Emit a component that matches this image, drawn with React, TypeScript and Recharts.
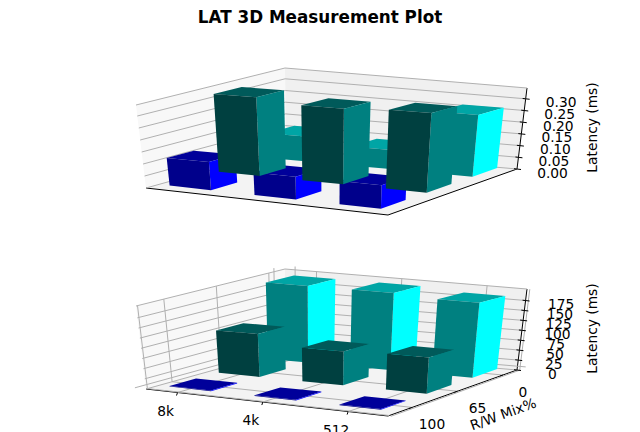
import { BarChart, Bar, XAxis, YAxis, CartesianGrid } from 'recharts'

const categories = ['8k', '4k', '512']
const mixLabels = ['100', '65', '0']

const readMs = [0.105, 0.08, 0.257]
const mixedMs = [0.327, 0.308, 0.318]
const writeMs = [0.115, 0.09, 0.09]
const read99 = [191, 191, 184]
const mixed99 = [105, 81, 85]
const write99 = [1.5, 1.5, 1.5]

const ticksAvg = [0, 0.05, 0.1, 0.15, 0.2, 0.25, 0.3]
const ticks99 = [0, 25, 50, 75, 100, 125, 150, 175]

const W = 640
const H = 231
const FONT = '"DejaVu Sans", sans-serif'

// floor and lean of the verticals, the corners of the 3d box
const FL = [146, 188]
const FR = [388, 215]
const BR = [517, 169]
const BL = [286, 149]
const ZFL = [-10, -83]
const ZFR = [3, -92]
const ZBR = [10, -81]
const ZBL = [-1, -81]

const mix = (p: number[], q: number[], r: number[], s: number[], a: number, d: number, i: number) =>
  (1 - a) * (1 - d) * p[i] + a * (1 - d) * q[i] + a * d * r[i] + (1 - a) * d * s[i]

const project = (a: number, d: number, h: number) => [
  mix(FL, FR, BR, BL, a, d, 0) + h * mix(ZFL, ZFR, ZBR, ZBL, a, d, 0),
  mix(FL, FR, BR, BL, a, d, 1) + h * mix(ZFL, ZFR, ZBR, ZBL, a, d, 1),
]
const pts = (list: number[][]) => list.map((p) => `${p[0].toFixed(1)},${p[1].toFixed(1)}`).join(' ')

const toA = (f: number) => -0.046 + 1.0575 * f
const toD = (f: number) => 0.01 + 1.0575 * f
const DEPTH_HALF = 0.095

const makeBarShape = (row: number, colors: string[]) => (props: any) => {
  const { x, y, width, height } = props
  const a0 = toA(x / W)
  const a1 = toA((x + width) / W)
  const h = height / H
  const dc = toD((row + 0.5) / 3)
  const d0 = dc - DEPTH_HALF
  const d1 = dc + DEPTH_HALF
  return (
    <g key={`${row}-${x}-${y}`}>
      <polygon points={pts([project(a0, d0, h), project(a1, d0, h), project(a1, d1, h), project(a0, d1, h)])} fill={colors[2]} />
      <polygon points={pts([project(a1, d0, 0), project(a1, d1, 0), project(a1, d1, h), project(a1, d0, h)])} fill={colors[1]} />
      <polygon points={pts([project(a0, d0, 0), project(a1, d0, 0), project(a1, d0, h), project(a0, d0, h)])} fill={colors[0]} />
    </g>
  )
}

// front, right side, top
const blueFaces = ['#00008b', '#0000ff', '#00009a']
const tealFaces = ['#004040', '#008080', '#005a5a']
const cyanFaces = ['#008080', '#00ffff', '#00a5a5']

const gridH = (props: any) => {
  const h = (H - props.y1) / H
  return (
    <polyline key={props.key} points={pts([project(0, 0, h), project(0, 1, h), project(1, 1, h)])} fill="none" stroke="#b0b0b0" strokeWidth={1} />
  )
}
const gridV = (props: any) => {
  const f = props.x1 / W
  const a = toA(f)
  const d = toD(f)
  return (
    <g key={props.key}>
      <polyline points={pts([project(a, 0, 0), project(a, 1, 0), project(a, 1, 1)])} fill="none" stroke="#b0b0b0" />
      <polyline points={pts([project(1, d, 0), project(0, d, 0), project(0, d, 1)])} fill="none" stroke="#b0b0b0" />
    </g>
  )
}

const zTick = (props: any) => {
  const h = (H - props.y) / H
  const p = project(1, 1, h)
  return (
    <g>
      <line x1={p[0] - 3} y1={p[1] - 0.3} x2={p[0] + 4} y2={p[1] + 0.5} stroke="#000" />
      <text x={p[0] + 35.5} y={p[1] + 3.5} textAnchor="middle" dominantBaseline="central" fontSize={13.8} fontFamily={FONT} fill="#000">
        {props.tickFormatter ? props.tickFormatter(props.payload.value) : props.payload.value}
      </text>
    </g>
  )
}

const catTick = (props: any) => {
  const p = project(toA(props.x / W), 0, 0)
  return (
    <g>
      <line x1={p[0]} y1={p[1]} x2={p[0] - 1} y2={p[1] + 3} stroke="#000" />
      <text x={p[0] - 12} y={p[1] + 18} textAnchor="middle" dominantBaseline="central" fontSize={13.8} fontFamily={FONT} fill="#000">
        {props.payload.value}
      </text>
    </g>
  )
}

const mixTick = (props: any) => {
  const p = project(1, toD(props.x / W), 0)
  return (
    <g>
      <line x1={p[0]} y1={p[1]} x2={p[0] - 3} y2={p[1] + 1} stroke="#000" />
      <text x={p[0] + 20} y={p[1] + 17} textAnchor="middle" dominantBaseline="central" fontSize={13.8} fontFamily={FONT} fill="#000">
        {props.payload.value}
      </text>
    </g>
  )
}

const BackPanes = ({ showMixTitle }: { showMixTitle: boolean }) => (
  <svg width={W} height={H} style={{ position: 'absolute', left: 0, top: 0, overflow: 'visible' }}>
    <polygon points={pts([project(0, 0, 0), project(0, 1, 0), project(0, 1, 1), project(0, 0, 1)])} fill="#f8f8f8" />
    <polygon points={pts([project(0, 1, 0), project(1, 1, 0), project(1, 1, 1), project(0, 1, 1)])} fill="#f0f0f0" />
    <polygon points={pts([project(0, 0, 0), project(1, 0, 0), project(1, 1, 0), project(0, 1, 0)])} fill="#f3f3f3" />
    <polyline points={pts([project(0, 0, 0), project(1, 0, 0), project(1, 1, 0), project(1, 1, 1)])} fill="none" stroke="#000" strokeWidth={1} />
    <text x={0} y={0} transform="translate(592 127.5) rotate(-90)" textAnchor="middle" dominantBaseline="central" fontSize={13.8} fontFamily={FONT}>
      Latency (ms)
    </text>
    {showMixTitle && (
      <text x={0} y={0} transform="translate(503 213) rotate(-20)" textAnchor="middle" dominantBaseline="central" fontSize={13.8} fontFamily={FONT}>
        R/W Mix%
      </text>
    )}
  </svg>
)

const Panel = ({ top, back, mid, front, zMax, ticks, fmt, labelled }: any) => {
  const table = categories.map((c, i) => ({ cat: c, mix: mixLabels[i], back: back[i], mid: mid[i], front: front[i] }))
  return (
    <div style={{ position: 'absolute', left: 0, top, width: W, height: H }}>
      <BackPanes showMixTitle={labelled} />
      <div style={{ position: 'absolute', left: 0, top: 0 }}>
        {/* the negative margins take back the 1px each axis has to reserve to be drawn at all */}
        <BarChart width={W} height={H} data={table} margin={{ top: 0, right: 0, bottom: -2, left: -1 }} barSize={104} barGap={-104} style={{ overflow: 'visible' }}>
          <CartesianGrid xAxisId="cat" horizontal={gridH} vertical={labelled ? gridV : false} />
          <XAxis xAxisId="cat" dataKey="cat" height={1} axisLine={false} tickLine={false} tick={labelled ? catTick : false} interval={0} />
          <XAxis xAxisId="mix" dataKey="mix" height={1} axisLine={false} tickLine={false} tick={labelled ? mixTick : false} interval={0} />
          <YAxis width={1} type="number" domain={[0, zMax]} ticks={ticks} axisLine={false} tickLine={false} tick={zTick} tickFormatter={fmt} interval={0} />
          <Bar xAxisId="cat" dataKey="back" shape={makeBarShape(2, cyanFaces)} isAnimationActive={false} />
          <Bar xAxisId="cat" dataKey="front" shape={makeBarShape(0, blueFaces)} isAnimationActive={false} />
          <Bar xAxisId="cat" dataKey="mid" shape={makeBarShape(1, tealFaces)} isAnimationActive={false} />
        </BarChart>
      </div>
    </div>
  )
}

export default function App() {
  return (
    <div style={{ position: 'absolute', left: 0, top: 0, width: W, height: 432, background: '#fff', overflow: 'hidden' }}>
      <Panel top={0} back={readMs} mid={mixedMs} front={writeMs} zMax={0.346} ticks={ticksAvg} fmt={(v: number) => v.toFixed(2)} labelled={false} />
      <Panel top={201} back={read99} mid={mixed99} front={write99} zMax={204} ticks={ticks99} fmt={(v: number) => String(v)} labelled={true} />
      <div style={{ position: 'absolute', left: 0, top: 8, width: W, textAlign: 'center', fontFamily: FONT, fontWeight: 700, fontSize: 16.8, lineHeight: '18px', color: '#000' }}>
        LAT 3D Measurement Plot
      </div>
    </div>
  )
}
